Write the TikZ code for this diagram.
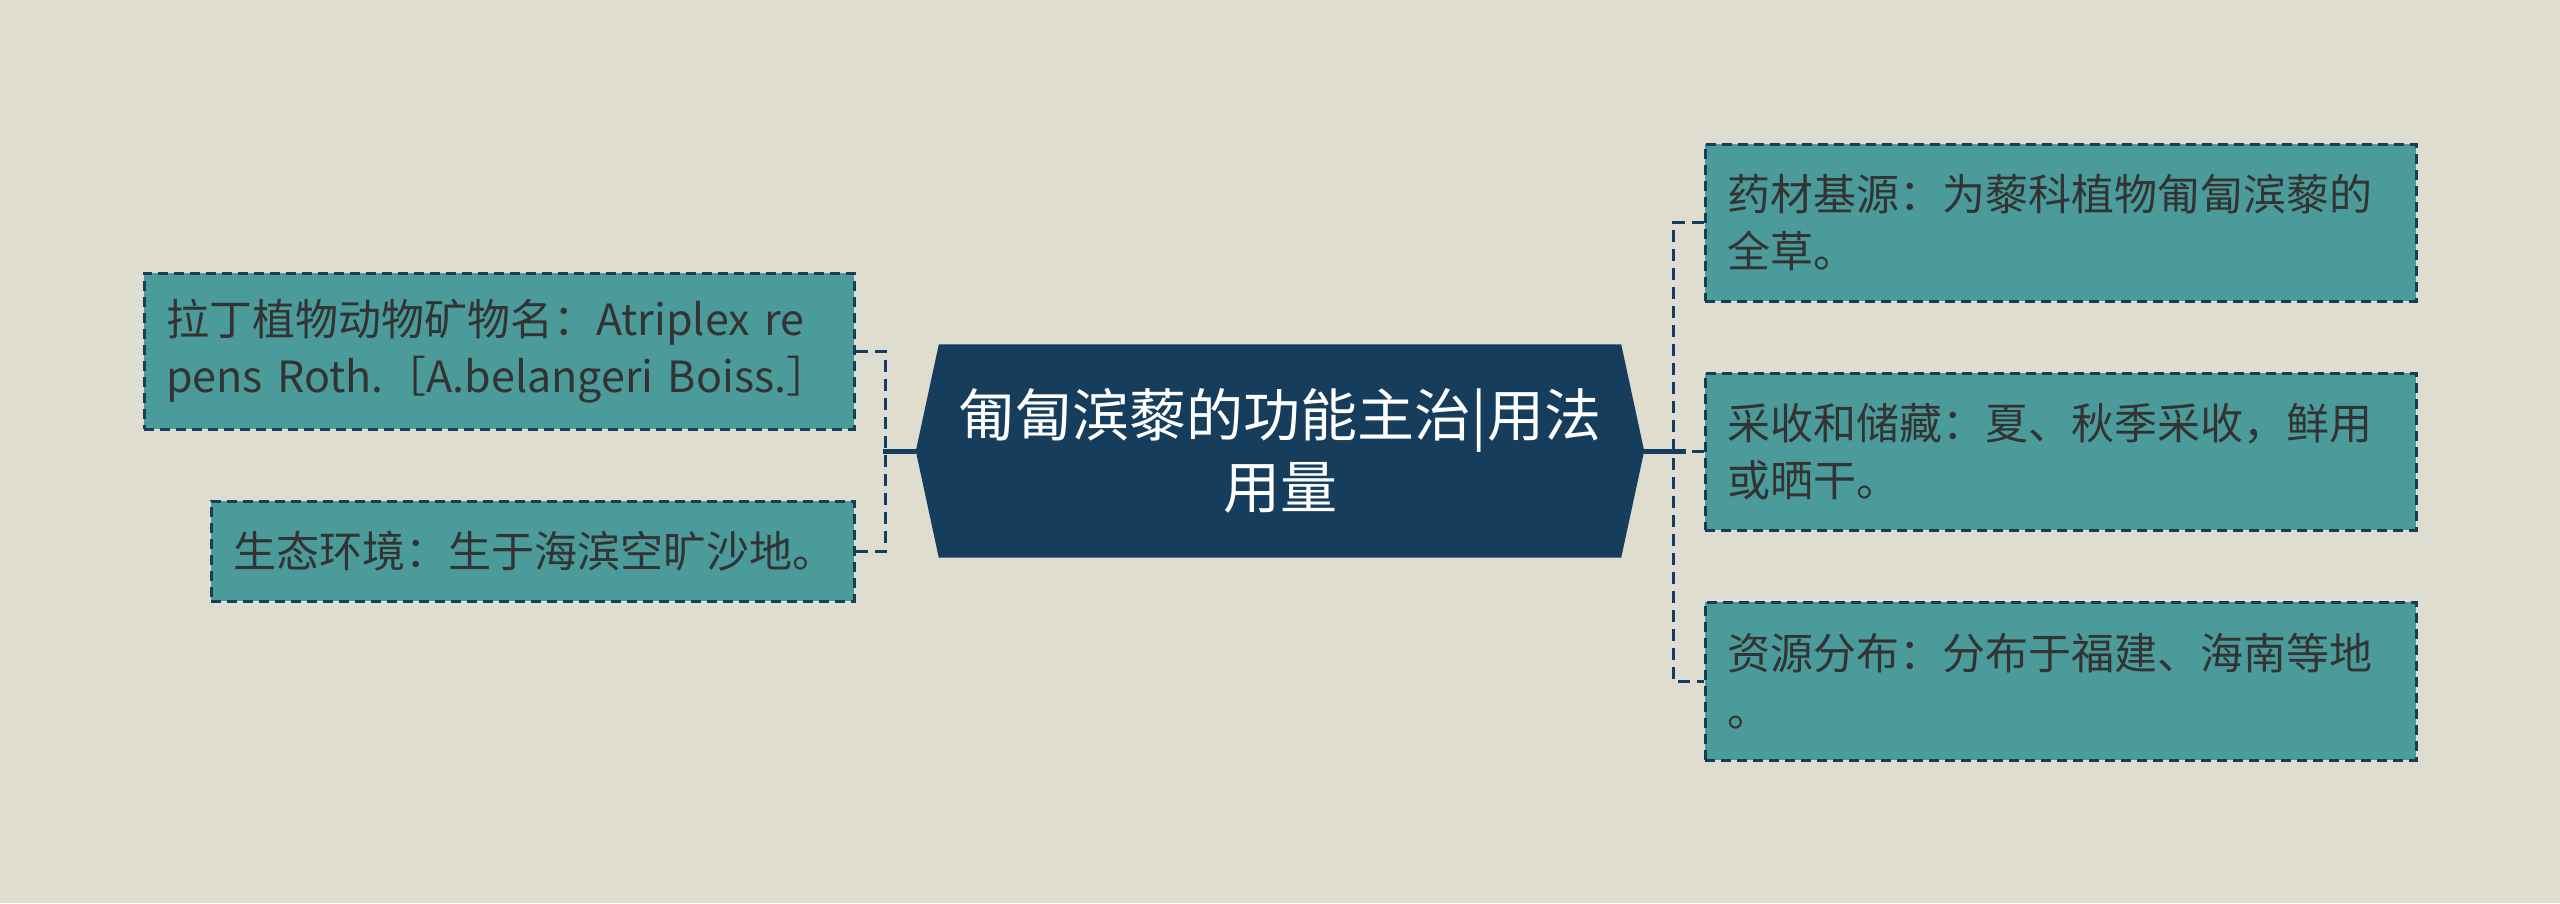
\documentclass[tikz,border=0pt]{standalone}
\usepackage{fontspec}
\setmainfont{Noto Sans CJK SC}
\usetikzlibrary{backgrounds}
\definecolor{bgc}{HTML}{DEDDCF}
\definecolor{leaffill}{HTML}{4C9B9B}
\definecolor{navy}{HTML}{173D5C}
\definecolor{txt}{HTML}{333333}
\begin{document}
\begin{tikzpicture}[x=1pt,y=-1pt,
  leaf/.style={draw=navy, fill=leaffill, line width=3pt, dash pattern=on 10pt off 6pt,
    rectangle, inner xsep=22pt, inner ysep=0pt, align=left, text=txt,
    font=\fontsize{43}{57}\selectfont, anchor=center},
  conn/.style={draw=navy, line width=3pt, dash pattern=on 12pt off 7pt},
  stub/.style={draw=navy, line width=5pt},
  hub/.style={text=white, align=center, font=\fontsize{57}{72}\selectfont,
    minimum width=728pt, minimum height=213pt, inner sep=0pt}]
\useasboundingbox (0,0) rectangle (2560,903);

% central topic
\node[hub] (c) at (1280,451) {匍匐滨藜的功能主治|用法\\用量};
\begin{scope}[on background layer]
\fill[bgc] (0,0) rectangle (2560,903);
\fill[navy] (c.west) -- ([xshift=23pt]c.north west) -- ([xshift=-23pt]c.north east)
  -- (c.east) -- ([xshift=-23pt]c.south east) -- ([xshift=23pt]c.south west) -- cycle;
\end{scope}

% left leaves
\node[leaf, minimum width=710pt, minimum height=156pt, text width=666pt] (l1) at (499,351)
  {拉丁植物动物矿物名：Atriplex re\\pens Roth.［A.belangeri Boiss.］};
\node[leaf, minimum width=643pt, minimum height=100pt, text width=599pt] (l2) at (532.5,551)
  {生态环境：生于海滨空旷沙地。};

% right leaves
\node[leaf, minimum width=711pt, minimum height=157pt, text width=667pt] (r1) at (2060.5,222.5)
  {药材基源：为藜科植物匍匐滨藜的\\全草。};
\node[leaf, minimum width=711pt, minimum height=157pt, text width=667pt] (r2) at (2060.5,451.5)
  {采收和储藏：夏、秋季采收，鲜用\\或晒干。};
\node[leaf, minimum width=711pt, minimum height=158pt, text width=667pt] (r3) at (2060.5,681)
  {资源分布：分布于福建、海南等地\\。};

% connectors left
\coordinate (lv1) at (885,351);
\coordinate (lv2) at (885,551);
\coordinate (lj) at (883,451);
\draw[conn] (l1.east) -- (lv1) -- (lv2) -- (l2.east);
\draw[stub] (c.west) -- (lj);

% connectors right
\coordinate (rv1) at (1673,222.5);
\coordinate (rv3) at (1673,681);
\coordinate (rj) at (1673,451.5);
\coordinate (rs) at (1686,451);
\draw[conn] (r1.west) -- (rv1) -- (rv3) -- (r3.west);
\draw[conn] (rj) -- (r2.west);
\draw[stub] (c.east) -- (rs);
\end{tikzpicture}
\end{document}
